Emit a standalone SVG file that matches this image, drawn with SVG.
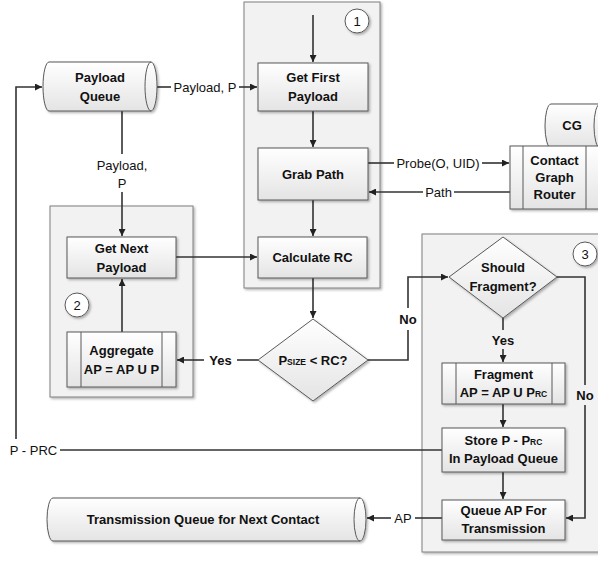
<svg xmlns="http://www.w3.org/2000/svg" width="598" height="565" viewBox="0 0 598 565">
<style>
.cont{fill:#f2f2f2;stroke:#7f7f7f;stroke-width:1;filter:url(#sh)}
.box{fill:url(#g);stroke:#595959;stroke-width:1;filter:url(#sh)}
.ln{fill:none;stroke:#333;stroke-width:1.6}
.in{fill:none;stroke:#595959;stroke-width:1}
.t{font-family:"Liberation Sans",Arial,sans-serif;font-size:13px;font-weight:bold;fill:#111;text-anchor:middle}
.l{font-family:"Liberation Sans",Arial,sans-serif;font-size:13px;fill:#111;text-anchor:middle}
.c{fill:#fff;stroke:#595959;stroke-width:1;filter:url(#sh)}
.s{font-size:8.5px}
</style>
<defs>
<linearGradient id="g" x1="0" y1="0" x2="0" y2="1">
<stop offset="0" stop-color="#ffffff"/>
<stop offset="1" stop-color="#e4e4e4"/>
</linearGradient>
<filter id="sh" x="-10%" y="-10%" width="130%" height="130%">
<feDropShadow dx="1.5" dy="1.5" stdDeviation="1" flood-color="#000" flood-opacity="0.3"/>
</filter>
<marker id="a" viewBox="0 0 10 10" refX="10" refY="5" markerWidth="7" markerHeight="7" orient="auto" markerUnits="userSpaceOnUse">
<path d="M0,0 L10,5 L0,10 Z" fill="#222"/>
</marker>
</defs>
<rect width="598" height="565" fill="#fff"/>

<g id="container1"><rect class="cont" x="244" y="2" width="136" height="286"/></g>
<g id="container2"><rect class="cont" x="50" y="206" width="143" height="191"/></g>
<g id="container3"><rect class="cont" x="422" y="234" width="182" height="318"/></g>

<g id="connectors">
<path class="ln" d="M313,15 L313,62" marker-end="url(#a)"/>
<path class="ln" d="M157,87 L171,87"/>
<path class="ln" d="M239,87 L257,87" marker-end="url(#a)"/>
<text class="l" x="205" y="91.5">Payload, P</text>
<path class="ln" d="M313,111 L313,147" marker-end="url(#a)"/>
<path class="ln" d="M368,163 L394,163"/>
<path class="ln" d="M482,163 L509,163" marker-end="url(#a)"/>
<text class="l" x="438" y="167.5">Probe(O, UID)</text>
<path class="ln" d="M510,192 L454,192"/>
<path class="ln" d="M423,192 L369,192" marker-end="url(#a)"/>
<text class="l" x="438.5" y="196.5">Path</text>
<path class="ln" d="M313,200 L313,236" marker-end="url(#a)"/>
<path class="ln" d="M122,111 L122,154"/>
<path class="ln" d="M122,192 L122,236" marker-end="url(#a)"/>
<text class="l" x="122" y="169.5">Payload,</text>
<text class="l" x="122" y="187.5">P</text>
<path class="ln" d="M176,257 L257,257" marker-end="url(#a)"/>
<path class="ln" d="M122,332 L122,279" marker-end="url(#a)"/>
<path class="ln" d="M313,278 L313,318" marker-end="url(#a)"/>
<path class="ln" d="M258,360 L237,360"/>
<path class="ln" d="M204,360 L177,360" marker-end="url(#a)"/>
<text class="t" x="220.5" y="364.5">Yes</text>
<path class="ln" d="M368,360 L408,360 L408,330"/>
<path class="ln" d="M408,308 L408,277 L448,277" marker-end="url(#a)"/>
<text class="t" x="408" y="323.5">No</text>
<path class="ln" d="M503,318 L503,330"/>
<path class="ln" d="M503,349 L503,362" marker-end="url(#a)"/>
<text class="t" x="503" y="344.5">Yes</text>
<path class="ln" d="M503,404 L503,427" marker-end="url(#a)"/>
<path class="ln" d="M503,472 L503,499" marker-end="url(#a)"/>
<path class="ln" d="M557,277 L585,277 L585,385"/>
<path class="ln" d="M585,405 L585,518 L566,518" marker-end="url(#a)"/>
<text class="t" x="585" y="399.5">No</text>
<path class="ln" d="M442,450 L60,450"/>
<path class="ln" d="M16,439 L16,87 L42,87" marker-end="url(#a)"/>
<text class="l" x="33.5" y="454.5">P - PRC</text>
<path class="ln" d="M442,518 L415,518"/>
<path class="ln" d="M391,518 L367,518" marker-end="url(#a)"/>
<text class="l" x="403" y="522.5">AP</text>
</g>

<g id="circle1"><circle class="c" cx="357" cy="21" r="12"/><text class="l" x="357" y="25.5">1</text></g>
<g id="circle2"><circle class="c" cx="77" cy="305" r="12"/><text class="l" x="77" y="309.5">2</text></g>
<g id="circle3"><circle class="c" cx="585" cy="254" r="12"/><text class="l" x="585" y="258.5">3</text></g>

<g id="payloadQueue">
<path class="box" d="M49,62 L151,62 A6,24.5 0 0 1 151,111 L49,111 A6,24.5 0 0 1 49,62 Z"/>
<path class="in" d="M151,62 A6,24.5 0 0 0 151,111"/>
<text class="t" x="100" y="82">Payload</text>
<text class="t" x="100" y="101">Queue</text>
</g>

<g id="getFirstPayload">
<rect class="box" x="258" y="63" width="110" height="48"/>
<text class="t" x="313" y="82">Get First</text>
<text class="t" x="313" y="101">Payload</text>
</g>

<g id="grabPath">
<rect class="box" x="258" y="148" width="110" height="52"/>
<text class="t" x="313" y="178.5">Grab Path</text>
</g>

<g id="calculateRC">
<rect class="box" x="258" y="237" width="109" height="41"/>
<text class="t" x="312.5" y="262">Calculate RC</text>
</g>

<g id="cg">
<path class="box" d="M551,104 L600,104 A6,22 0 0 1 600,148 L551,148 A6,22 0 0 1 551,104 Z"/>
<path class="in" d="M600,104 A6,22 0 0 0 600,148"/>
<text class="t" x="572" y="130">CG</text>
</g>

<g id="contactGraphRouter">
<rect class="box" x="510" y="146" width="100" height="63"/>
<line class="in" x1="523" y1="146" x2="523" y2="209"/>
<line class="in" x1="586" y1="146" x2="586" y2="209"/>
<text class="t" x="554.5" y="165">Contact</text>
<text class="t" x="554.5" y="182">Graph</text>
<text class="t" x="554.5" y="199">Router</text>
</g>

<g id="getNextPayload">
<rect class="box" x="67" y="237" width="109" height="41"/>
<text class="t" x="121.5" y="252.5">Get Next</text>
<text class="t" x="121.5" y="271.5">Payload</text>
</g>

<g id="aggregate">
<rect class="box" x="67" y="332" width="109" height="55"/>
<line class="in" x1="81" y1="332" x2="81" y2="387"/>
<line class="in" x1="162" y1="332" x2="162" y2="387"/>
<text class="t" x="121.5" y="355">Aggregate</text>
<text class="t" x="121.5" y="374">AP = AP U P</text>
</g>

<g id="psizeDecision">
<path class="box" d="M313,319 L368,360 L313,401 L258,360 Z"/>
<text class="t" x="313" y="364.5">P<tspan class="s">SIZE</tspan> &lt; RC?</text>
</g>

<g id="shouldFragment">
<path class="box" d="M503,237 L557,277 L503,318 L449,277 Z"/>
<text class="t" x="503" y="272">Should</text>
<text class="t" x="503" y="291">Fragment?</text>
</g>

<g id="fragment">
<rect class="box" x="442" y="363" width="123" height="41"/>
<line class="in" x1="456" y1="363" x2="456" y2="404"/>
<line class="in" x1="552" y1="363" x2="552" y2="404"/>
<text class="t" x="503.5" y="379">Fragment</text>
<text class="t" x="503.5" y="397">AP = AP U P<tspan class="s">RC</tspan></text>
</g>

<g id="storePayload">
<rect class="box" x="442" y="428" width="123" height="44"/>
<text class="t" x="503.5" y="445">Store P - P<tspan class="s">RC</tspan></text>
<text class="t" x="503.5" y="463">In Payload Queue</text>
</g>

<g id="queueAP">
<rect class="box" x="442" y="500" width="123" height="40"/>
<text class="t" x="503.5" y="515">Queue AP For</text>
<text class="t" x="503.5" y="533">Transmission</text>
</g>

<g id="transmissionQueue">
<path class="box" d="M53,498 L360,498 A6,21.5 0 0 1 360,541 L53,541 A6,21.5 0 0 1 53,498 Z"/>
<path class="in" d="M360,498 A6,21.5 0 0 0 360,541"/>
<text class="t" x="203" y="524">Transmission Queue for Next Contact</text>
</g>
</svg>
